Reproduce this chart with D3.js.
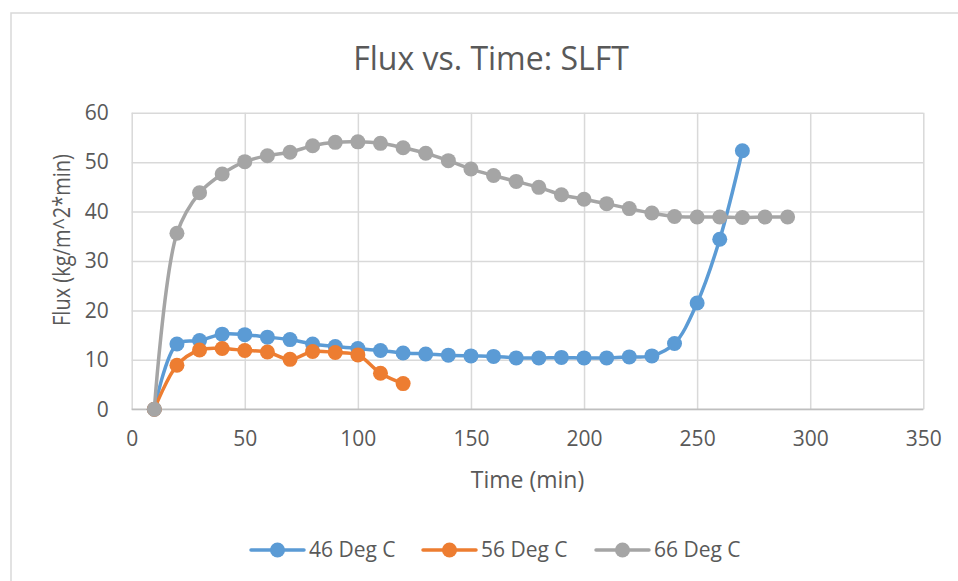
<!DOCTYPE html>
<html>
<head>
<meta charset="utf-8">
<script src="https://cdn.jsdelivr.net/npm/d3@7"></script>
<style>
  body { margin: 0; background: #fff; }
  text { font-family: "Open Sans", sans-serif; fill: #595959; }
</style>
</head>
<body>
<div id="chart"></div>
<script>
/* CONSTANTS AND GLOBALS */
const width = 958;
const height = 581;
const margin = { top: 112.7, right: 958 - 923.3, bottom: 581 - 409.3, left: 131.7 };

/* DATA */
const time46 = [10, 20, 30, 40, 50, 60, 70, 80, 90, 100, 110, 120, 130, 140, 150, 160, 170, 180, 190, 200, 210, 220, 230, 240, 250, 260, 270];
const flux46 = [0, 13.2, 13.9, 15.2, 15.1, 14.6, 14.1, 13.2, 12.7, 12.3, 11.9, 11.4, 11.2, 10.95, 10.8, 10.7, 10.4, 10.4, 10.5, 10.4, 10.4, 10.6, 10.8, 13.3, 21.5, 34.4, 52.3];

const time56 = [10, 20, 30, 40, 50, 60, 70, 80, 90, 100, 110, 120];
const flux56 = [0, 8.9, 12.0, 12.3, 11.9, 11.6, 10.1, 11.7, 11.5, 11.0, 7.3, 5.2];

const time66 = [10, 20, 30, 40, 50, 60, 70, 80, 90, 100, 110, 120, 130, 140, 150, 160, 170, 180, 190, 200, 210, 220, 230, 240, 250, 260, 270, 280, 290];
const flux66 = [0, 35.6, 43.8, 47.6, 50.1, 51.3, 52.0, 53.3, 54.0, 54.1, 53.8, 52.9, 51.8, 50.3, 48.6, 47.3, 46.1, 44.9, 43.4, 42.5, 41.6, 40.6, 39.7, 39.0, 38.9, 38.9, 38.8, 38.9, 38.9];

const seriesNames = ["46 Deg C", "56 Deg C", "66 Deg C"];
const seriesColors = ["#5b9bd5", "#ed7d31", "#a5a5a5"];
const xTicks = [0, 50, 100, 150, 200, 250, 300, 350];
const yTicks = [0, 10, 20, 30, 40, 50, 60];

const series = [
  { name: seriesNames[0], color: seriesColors[0], values: time46.map((t, i) => ({ t, f: flux46[i] })) },
  { name: seriesNames[1], color: seriesColors[1], values: time56.map((t, i) => ({ t, f: flux56[i] })) },
  { name: seriesNames[2], color: seriesColors[2], values: time66.map((t, i) => ({ t, f: flux66[i] })) }
];

/* SCALES */
const xScale = d3.scaleLinear()
  .domain([0, 350])
  .range([margin.left, width - margin.right]);

const yScale = d3.scaleLinear()
  .domain([0, 60])
  .range([height - margin.bottom, margin.top]);

/* HTML ELEMENTS */
const svg = d3.select("#chart")
  .append("svg")
  .attr("width", width)
  .attr("height", height)
  .style("background-color", "white")
  .style("display", "block");

// chart frame (runs off the right and bottom edge)
svg.append("rect")
  .attr("x", 11)
  .attr("y", 13)
  .attr("width", 980)
  .attr("height", 600)
  .attr("fill", "none")
  .attr("stroke", "#d9d9d9")
  .attr("stroke-width", 1.5);

// title
svg.append("text")
  .attr("x", 491)
  .attr("y", 70)
  .attr("text-anchor", "middle")
  .style("font-size", "32px")
  .text("Flux vs. Time: SLFT");

// y axis + horizontal gridlines
const yAxis = svg.append("g")
  .attr("transform", `translate(${margin.left},0)`)
  .call(d3.axisLeft(yScale)
    .tickValues(yTicks)
    .tickSize(-(width - margin.left - margin.right))
    .tickPadding(23));

yAxis.select(".domain").remove();
yAxis.selectAll("line").attr("stroke", "#d9d9d9").attr("stroke-width", 1.5);
yAxis.selectAll("text").style("font-size", "21px").style("font-family", "Open Sans").attr("fill", "#595959");

// x axis + vertical gridlines
const xAxis = svg.append("g")
  .attr("transform", `translate(0,${height - margin.bottom})`)
  .call(d3.axisBottom(xScale)
    .tickValues(xTicks)
    .tickSize(-(height - margin.top - margin.bottom))
    .tickPadding(22));

xAxis.select(".domain").remove();
xAxis.selectAll("line").attr("stroke", "#d9d9d9").attr("stroke-width", 1.5);
xAxis.selectAll("text").style("font-size", "21px").style("font-family", "Open Sans").attr("fill", "#595959");

// horizontal axis line at 0
svg.append("line")
  .attr("x1", xScale(0))
  .attr("x2", xScale(350))
  .attr("y1", yScale(0))
  .attr("y2", yScale(0))
  .attr("stroke", "#bfbfbf")
  .attr("stroke-width", 1.5);

// axis titles
svg.append("text")
  .attr("x", xScale(175))
  .attr("y", 488)
  .attr("text-anchor", "middle")
  .style("font-size", "23px")
  .text("Time (min)");

svg.append("text")
  .attr("transform", "translate(70,240) rotate(-90) scale(1,1.18)")
  .attr("text-anchor", "middle")
  .style("font-size", "20px")
  .text("Flux (kg/m^2*min)");

// lines
const line = d3.line()
  .x(d => xScale(d.t))
  .y(d => yScale(d.f))
  .curve(d3.curveCatmullRom.alpha(0.5));

const seriesG = svg.selectAll(".series")
  .data(series)
  .join("g")
  .attr("class", "series");

seriesG.append("path")
  .attr("d", d => line(d.values))
  .attr("fill", "none")
  .attr("stroke", d => d.color)
  .attr("stroke-width", 3.5)
  .attr("stroke-linejoin", "round");

seriesG.selectAll("circle")
  .data(d => d.values.map(v => ({ ...v, color: d.color })))
  .join("circle")
  .attr("cx", d => xScale(d.t))
  .attr("cy", d => yScale(d.f))
  .attr("r", 7.5)
  .attr("fill", d => d.color);

// legend
const legendX = [251, 423, 596];
const legend = svg.selectAll(".legend")
  .data(series)
  .join("g")
  .attr("class", "legend")
  .attr("transform", (d, i) => `translate(${legendX[i]},550)`);

legend.append("line")
  .attr("x1", 0)
  .attr("x2", 53)
  .attr("stroke", d => d.color)
  .attr("stroke-width", 3.5)
  .attr("stroke-linecap", "round");

legend.append("circle")
  .attr("cx", 26.5)
  .attr("r", 7.5)
  .attr("fill", d => d.color);

legend.append("text")
  .attr("x", 58)
  .attr("dy", "0.35em")
  .style("font-size", "21px")
  .text(d => d.name);
</script>
</body>
</html>
